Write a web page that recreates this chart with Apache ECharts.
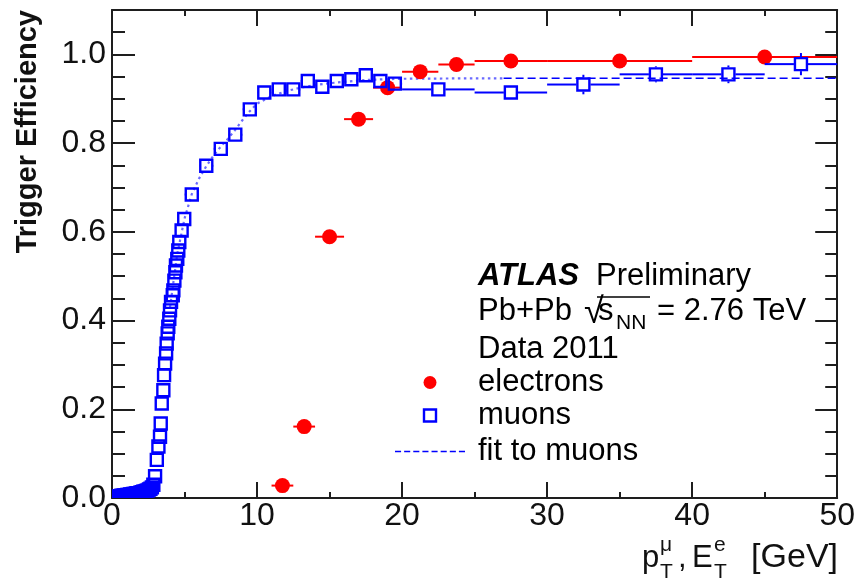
<!DOCTYPE html>
<html><head><meta charset="utf-8">
<script src="https://cdn.jsdelivr.net/npm/echarts@6/dist/echarts.min.js"></script>
<style>html,body{margin:0;padding:0;background:#fff}#c{width:858px;height:583px}</style>
</head><body><div id="c"></div>
<script>
// ---------------- data ----------------
const xTickValues = [0, 10, 20, 30, 40, 50];
const yTickValues = [0.0, 0.2, 0.4, 0.6, 0.8, 1.0];

const electronX    = [11.75, 13.25, 15, 17, 19, 21.25, 23.75, 27.5, 35, 45];
const electronXErr = [0.75, 0.75, 1, 1, 1, 1.25, 1.25, 2.5, 5, 5];
const electronY    = [0.028, 0.161, 0.589, 0.854, 0.925, 0.961, 0.977, 0.985, 0.985, 0.994];

const muonX = [
  0.05,0.15,0.25,0.35,0.45,0.55,0.65,0.75,0.85,0.95,1.05,1.15,1.25,1.35,1.45,1.55,1.65,1.75,1.85,1.95,
  2.05,2.15,2.25,2.35,2.45,2.55,2.65,2.75,2.85,
  2.97,3.09,3.2,3.31,3.36,3.43,3.54,3.59,3.66,3.73,3.77,3.84,3.88,3.95,4.0,4.07,4.19,4.23,4.3,4.37,4.41,4.5,4.57,4.64,4.8,4.98,
  5.5,6.5,7.5,8.5,9.5,10.5,11.5,12.5,13.5,14.5,15.5,16.5,17.5,18.5,19.5,
  22.5,27.5,32.5,37.5,42.5,47.5
];
const muonY = [
  0.002,0.002,0.003,0.003,0.004,0.004,0.005,0.005,0.006,0.006,0.007,0.007,0.008,0.008,0.009,0.009,0.010,0.011,0.011,0.012,
  0.013,0.014,0.015,0.016,0.017,0.019,0.021,0.024,0.030,
  0.049,0.086,0.116,0.138,0.168,0.213,0.243,0.277,0.303,0.326,0.348,0.371,0.386,0.404,0.423,0.442,0.457,0.468,0.490,0.509,0.524,0.539,0.558,0.577,0.603,0.629,
  0.684,0.749,0.787,0.819,0.876,0.914,0.921,0.921,0.940,0.927,0.940,0.944,0.953,0.940,0.934,
  0.921,0.914,0.932,0.955,0.955,0.978
];
const muonXErr = [
  0.05,0.05,0.05,0.05,0.05,0.05,0.05,0.05,0.05,0.05,0.05,0.05,0.05,0.05,0.05,0.05,0.05,0.05,0.05,0.05,
  0.05,0.05,0.05,0.05,0.05,0.05,0.05,0.05,0.05,
  0.05,0.05,0.05,0.05,0.05,0.05,0.05,0.05,0.05,0.05,0.05,0.05,0.05,0.05,0.05,0.05,0.05,0.05,0.05,0.05,0.05,0.05,0.05,0.05,0.05,0.05,
  0.5,0.5,0.5,0.5,0.5,0.5,0.5,0.5,0.5,0.5,0.5,0.5,0.5,0.5,0.5,
  2.5,2.5,2.5,2.5,2.5,2.5
];
const muonYErr = [
  0.002,0.002,0.002,0.002,0.002,0.002,0.002,0.002,0.002,0.002,0.002,0.002,0.002,0.002,0.002,0.002,0.002,0.002,0.002,0.002,
  0.002,0.002,0.002,0.002,0.002,0.002,0.002,0.002,0.002,
  0.005,0.005,0.005,0.005,0.005,0.005,0.005,0.005,0.005,0.005,0.005,0.005,0.005,0.005,0.005,0.005,0.005,0.005,0.005,0.005,0.005,0.005,0.005,0.005,0.005,0.005,
  0.01,0.01,0.01,0.01,0.01,0.01,0.01,0.01,0.01,0.01,0.01,0.01,0.01,0.01,0.01,
  0.01,0.012,0.022,0.018,0.02,0.025
];

// fit to muons: dotted (lighter) part and dashed part as seen in the picture
const fitDottedX = [4.0,4.5,5.0,5.5,6.0,6.5,7.0,7.5,8.0,8.5,9.0,9.5,10,11,12,13,14,15,16,17,18,20,25,27];
const fitDottedY = [0.43,0.55,0.63,0.685,0.72,0.748,0.772,0.792,0.81,0.83,0.852,0.872,0.889,0.906,0.917,0.925,0.931,0.935,0.938,0.941,0.943,0.945,0.946,0.946];
const fitDashedX = [27, 30, 40, 50];
const fitDashedY = [0.946, 0.946, 0.946, 0.946];

// ---------------- chart ----------------
const FF = '"Liberation Sans", Arial, Helvetica, sans-serif';
const BLUE = '#0000ff', RED = '#ff0000', AX = '#1e1e1e';

const electronData = electronX.map((x, i) => [x, electronY[i], electronXErr[i]]);
const muonData = muonX.map((x, i) => [x, muonY[i], muonXErr[i], muonYErr[i]]);
const fitDottedData = fitDottedX.map((x, i) => [x, fitDottedY[i]]);
const fitDashedData = fitDashedX.map((x, i) => [x, fitDashedY[i]]);

function renderElectron(params, api) {
  const x = api.value(0), y = api.value(1), ex = api.value(2);
  const c = api.coord([x, y]);
  const l = api.coord([x - ex, y])[0], r = api.coord([x + ex, y])[0];
  return { type: 'group', children: [
    { type: 'line', shape: { x1: l, y1: c[1], x2: r, y2: c[1] }, style: { stroke: RED, lineWidth: 2 } },
    { type: 'circle', shape: { cx: c[0], cy: c[1], r: 7.5 }, style: { fill: RED } }
  ]};
}
function renderMuon(params, api) {
  const x = api.value(0), y = api.value(1), ex = api.value(2), ey = api.value(3);
  const c = api.coord([x, y]);
  const l = api.coord([x - ex, y])[0], r = api.coord([x + ex, y])[0];
  const t = api.coord([x, y + ey])[1], b = api.coord([x, y - ey])[1];
  const h = 7;
  const ls = { stroke: BLUE, lineWidth: 2 };
  const ch = [];
  if (c[0] - l > h) ch.push({ type: 'line', shape: { x1: l, y1: c[1], x2: c[0] - h, y2: c[1] }, style: ls });
  if (r - c[0] > h) ch.push({ type: 'line', shape: { x1: c[0] + h, y1: c[1], x2: r, y2: c[1] }, style: ls });
  if (c[1] - t > h) ch.push({ type: 'line', shape: { x1: c[0], y1: t, x2: c[0], y2: c[1] - h }, style: ls });
  if (b - c[1] > h) ch.push({ type: 'line', shape: { x1: c[0], y1: c[1] + h, x2: c[0], y2: b }, style: ls });
  ch.push({ type: 'rect', shape: { x: c[0] - 6, y: c[1] - 6, width: 12, height: 12 }, style: { fill: 'rgba(0,0,0,0)', stroke: BLUE, lineWidth: 2.4 } });
  return { type: 'group', children: ch };
}

function baseAxis(extra) {
  return Object.assign({
    type: 'value', splitLine: { show: false },
    axisLine: { show: false, onZero: false },
    axisLabel: { show: false },
    axisTick: { show: true, inside: true, lineStyle: { color: AX, width: 2 } }
  }, extra);
}

const option = {
  backgroundColor: '#fff',
  animation: false,
  grid: { left: 112, right: 18, top: 10, bottom: 85, containLabel: false },
  xAxis: [
    baseAxis({ position: 'bottom', min: 0, max: 50, interval: 10,
      axisLine: { show: true, onZero: false, lineStyle: { color: AX, width: 2 } },
      axisTick: { show: true, inside: true, length: 16, lineStyle: { color: AX, width: 2 } },
      axisLabel: { show: true, fontSize: 32, fontFamily: FF, color: '#111', margin: 2,
        formatter: v => (xTickValues.indexOf(v) >= 0 ? String(v) : '') } }),
    baseAxis({ position: 'top', min: 0, max: 50, interval: 10,
      axisLine: { show: true, onZero: false, lineStyle: { color: AX, width: 2 } },
      axisTick: { show: true, inside: true, length: 16, lineStyle: { color: AX, width: 2 } } }),
    baseAxis({ position: 'bottom', min: 0, max: 50, interval: 5,
      axisTick: { show: true, inside: true, length: 6, lineStyle: { color: AX, width: 2 } } }),
    baseAxis({ position: 'top', min: 0, max: 50, interval: 5,
      axisTick: { show: true, inside: true, length: 6, lineStyle: { color: AX, width: 2 } } })
  ],
  yAxis: [
    baseAxis({ position: 'left', min: 0, max: 1.1, interval: 0.2,
      axisLine: { show: true, onZero: false, lineStyle: { color: AX, width: 2 } },
      axisTick: { show: true, inside: true, length: 23, lineStyle: { color: AX, width: 2 } },
      axisLabel: { show: true, fontSize: 32, fontFamily: FF, color: '#111', margin: 6, showMaxLabel: false,
        formatter: v => (yTickValues.some(t => Math.abs(t - v) < 1e-6) ? v.toFixed(1) : '') } }),
    baseAxis({ position: 'right', min: 0, max: 1.1, interval: 0.2,
      axisLine: { show: true, onZero: false, lineStyle: { color: AX, width: 2 } },
      axisTick: { show: true, inside: true, length: 22, lineStyle: { color: AX, width: 2 } } }),
    baseAxis({ position: 'left', min: 0, max: 1.1, interval: 0.05,
      axisTick: { show: true, inside: true, length: 13, lineStyle: { color: AX, width: 2 } } }),
    baseAxis({ position: 'right', min: 0, max: 1.1, interval: 0.05,
      axisTick: { show: true, inside: true, length: 12, lineStyle: { color: AX, width: 2 } } })
  ],
  legend: [
    { data: [{ name: 'electrons', icon: 'circle', itemStyle: { color: RED, borderWidth: 0 } }],
      orient: 'vertical', left: 423.5, top: 367, padding: 0, itemWidth: 70, itemHeight: 13, selectedMode: false,
      textStyle: { fontSize: 31, fontFamily: FF, color: '#000', padding: [0, 0, 0, 8] } },
    { data: [{ name: 'muons', icon: 'path://M0,0h10v10h-10z', itemStyle: { color: 'rgba(0,0,0,0)', borderColor: BLUE, borderWidth: 2.4 } }],
      orient: 'vertical', left: 422.8, top: 400, padding: 0, itemWidth: 70, itemHeight: 12, selectedMode: false,
      textStyle: { fontSize: 31, fontFamily: FF, color: '#000', padding: [0, 0, 0, 8] } },
    { data: [{ name: 'fit to muons', icon: 'path://M0,0h6v1.5h-6zM9,0h6v1.5h-6zM18,0h6v1.5h-6zM27,0h6v1.5h-6zM36,0h6v1.5h-6zM45,0h6v1.5h-6zM54,0h6v1.5h-6zM63,0h6v1.5h-6z',
        itemStyle: { color: BLUE, borderWidth: 0 } }],
      orient: 'vertical', left: 395, top: 436, padding: 0, itemWidth: 70, itemHeight: 12, selectedMode: false,
      textStyle: { fontSize: 31, fontFamily: FF, color: '#000', padding: [0, 0, 0, 8] } }
  ],
  series: [
    { name: 'fit to muons', type: 'line', data: fitDottedData, symbol: 'none', z: 2, clip: true,
      lineStyle: { color: '#6a6aff', width: 2.2, type: [2.5, 3.5] }, itemStyle: { color: BLUE } },
    { name: 'fit to muons', type: 'line', data: fitDashedData, symbol: 'none', z: 2, clip: true,
      lineStyle: { color: BLUE, width: 1.6, type: [8, 4] }, itemStyle: { color: BLUE } },
    { name: 'electrons', type: 'custom', data: electronData, renderItem: renderElectron, z: 3, clip: true,
      itemStyle: { color: RED }, encode: { x: 0, y: 1 } },
    { name: 'muons', type: 'custom', data: muonData, renderItem: renderMuon, z: 4, clip: true,
      itemStyle: { color: BLUE }, encode: { x: 0, y: 1 } }
  ],
  graphic: [
    // y axis title
    { type: 'text', x: 28, y: 10, rotation: Math.PI / 2,
      style: { text: 'Trigger Efficiency', font: 'bold 29px ' + FF, fill: '#111', align: 'right', verticalAlign: 'middle' } },
    // x axis title
    { type: 'text', x: 642, y: 558, style: { text: 'p', font: '31px ' + FF, fill: '#111', verticalAlign: 'middle' } },
    { type: 'text', x: 660, y: 545, style: { text: 'μ', font: '21px ' + FF, fill: '#111', verticalAlign: 'middle' } },
    { type: 'text', x: 660, y: 572, style: { text: 'T', font: '21px ' + FF, fill: '#111', verticalAlign: 'middle' } },
    { type: 'text', x: 678, y: 558, style: { text: ',', font: '31px ' + FF, fill: '#111', verticalAlign: 'middle' } },
    { type: 'text', x: 692, y: 558, style: { text: 'E', font: '31px ' + FF, fill: '#111', verticalAlign: 'middle' } },
    { type: 'text', x: 714, y: 545, style: { text: 'e', font: '21px ' + FF, fill: '#111', verticalAlign: 'middle' } },
    { type: 'text', x: 714, y: 572, style: { text: 'T', font: '21px ' + FF, fill: '#111', verticalAlign: 'middle' } },
    { type: 'text', x: 838, y: 558, style: { text: '[GeV]', font: '34px ' + FF, fill: '#111', align: 'right', verticalAlign: 'middle' } },
    // ATLAS label block
    { type: 'text', x: 478, y: 276, style: { text: 'ATLAS', font: 'italic bold 31px ' + FF, fill: '#000', verticalAlign: 'middle' } },
    { type: 'text', x: 596, y: 276, style: { text: 'Preliminary', font: '31px ' + FF, fill: '#000', verticalAlign: 'middle' } },
    { type: 'text', x: 478, y: 311, style: { text: 'Pb+Pb', font: '31px ' + FF, fill: '#000', verticalAlign: 'middle' } },
    { type: 'text', x: 584, y: 313, style: { text: '√', font: '36px ' + FF, fill: '#000', verticalAlign: 'middle' } },
    { type: 'line', shape: { x1: 597, y1: 297, x2: 650, y2: 297 }, style: { stroke: '#000', lineWidth: 1.5 } },
    { type: 'text', x: 598, y: 311, style: { text: 's', font: '31px ' + FF, fill: '#000', verticalAlign: 'middle' } },
    { type: 'text', x: 616, y: 323, style: { text: 'NN', font: '21px ' + FF, fill: '#000', verticalAlign: 'middle' } },
    { type: 'text', x: 657, y: 311, style: { text: '= 2.76 TeV', font: '31px ' + FF, fill: '#000', verticalAlign: 'middle' } },
    { type: 'text', x: 478, y: 349.5, style: { text: 'Data 2011', font: '31px ' + FF, fill: '#000', verticalAlign: 'middle' } }
  ]
};

const chart = echarts.init(document.getElementById('c'));
chart.setOption(option);
</script>
</body></html>
